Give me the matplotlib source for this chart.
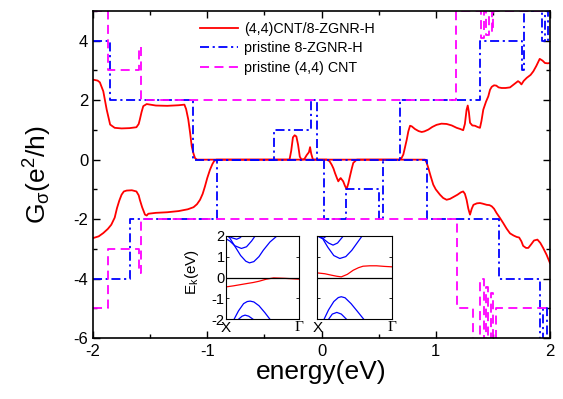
import matplotlib
matplotlib.use("Agg")
import matplotlib.pyplot as plt
from matplotlib.ticker import MultipleLocator, FixedLocator

plt.rcParams['font.family'] = ['Liberation Sans', 'DejaVu Sans']
plt.rcParams['mathtext.fontset'] = 'custom'
plt.rcParams['mathtext.rm'] = 'Liberation Sans'
plt.rcParams['mathtext.it'] = 'Liberation Sans:italic'

# ---------------- data ----------------
# pristine 8-ZGNR-H (steps: breakpoints and levels)
blue_up_x = [-2.0, -1.85, -1.125, -0.42, -0.09, -0.04, 0.687, 1.387, 1.755, 1.77, 1.93, 1.96, 1.98, 2.0]
blue_up_y = [4, 2, 0, 1, 2, 0, 2, 4, 3, 5, 4, 5, 4, 4]
blue_dn_x = [-2.0, -1.68, -0.915, 0.025, 0.212, 0.503, 0.541, 0.92, 1.55, 1.91, 1.94, 1.97, 2.0]
blue_dn_y = [-4, -2, 0, -2, -1, -2, 0, -2, -4, -6.3, -5, -6.3, -6.3]

# pristine (4,4) CNT
mag_up_x = [-2.0, -1.87, -1.595, -1.58, 1.18, 1.40, 1.42, 1.44, 1.47, 1.49, 1.50, 2.0]
mag_up_y = [5, 3, 3.8, 2, 5, 4.1, 5, 4.2, 5, 4.3, 5, 5]
mag_dn_x = [-2.0, -1.87, -1.595, -1.58, 1.186, 1.33, 1.385, 1.42, 1.44, 1.46, 1.48, 1.50, 1.53, 2.0]
mag_dn_y = [-5, -3, -3.8, -2, -5, -6.3, -4.0, -6.3, -4.3, -6.3, -4.5, -6.3, -5, -5]

# (4,4)CNT/8-ZGNR-H
red_up_x = [-2.0, -1.96, -1.94, -1.91, -1.88, -1.85, -1.81, -1.75, -1.68, -1.62, -1.60, -1.59,
            -1.575, -1.56, -1.53, -1.45, -1.35, -1.25, -1.20, -1.185, -1.166, -1.15, -1.136,
            -1.12, -1.107, -1.09, -0.28, -0.265, -0.25, -0.235, -0.22, -0.205, -0.19, -0.175,
            -0.15, -0.13, -0.11, -0.10, -0.09, -0.075, 0.68, 0.70, 0.716, 0.73, 0.746, 0.76,
            0.775, 0.79, 0.818, 0.85, 0.877, 0.90, 0.935, 0.97, 1.007, 1.05, 1.095, 1.14,
            1.183, 1.215, 1.24, 1.255, 1.27, 1.28, 1.29, 1.30, 1.32, 1.343, 1.365, 1.387,
            1.40, 1.416, 1.44, 1.46, 1.475, 1.49, 1.51, 1.53, 1.55, 1.577, 1.61, 1.65, 1.69,
            1.72, 1.735, 1.75, 1.77, 1.796, 1.83, 1.854, 1.88, 1.91, 1.935, 1.956, 1.98, 2.0]
red_up_y = [2.69, 2.66, 2.6, 2.3, 1.68, 1.18, 1.07, 1.05, 1.06, 1.09, 1.2, 1.35,
            1.6, 1.8, 1.87, 1.82, 1.81, 1.83, 1.85, 1.7, 1.35, 0.9, 0.45,
            0.2, 0.05, 0.0, 0.0, 0.3, 0.75, 0.82, 0.78, 0.5, 0.1, 0.0,
            0.02, 0.15, 0.25, 0.42, 0.2, 0.0, 0.0, 0.05, 0.17, 0.4, 0.67, 0.95,
            1.14, 1.12, 1.03, 0.96, 0.93, 0.95, 1.01, 1.1, 1.17, 1.21, 1.2, 1.15,
            1.07, 1.03, 0.99, 1.2, 1.68, 1.82, 1.6, 1.24, 1.15, 1.14, 1.1, 1.07,
            1.3, 1.68, 1.95, 2.13, 2.35, 2.45, 2.5, 2.49, 2.43, 2.41, 2.41, 2.43, 2.55,
            2.64, 2.6, 2.53, 2.65, 2.75, 2.85, 2.97, 3.15, 3.39, 3.33, 3.25, 3.24, 3.25]
red_dn_x = [-2.0, -1.95, -1.91, -1.87, -1.84, -1.81, -1.79, -1.77, -1.75, -1.73, -1.705, -1.66,
            -1.62, -1.60, -1.59, -1.57, -1.545, -1.53, -1.516, -1.45, -1.35, -1.25, -1.17,
            -1.12, -1.09, -1.063, -1.04, -1.02, -1.0, -0.976, -0.955, -0.94, -0.92, 0.045,
            0.07, 0.089, 0.105, 0.118, 0.135, 0.147, 0.16, 0.168, 0.18, 0.19, 0.205, 0.22,
            0.235, 0.249, 0.265, 0.278, 0.30, 0.31, 0.906, 0.92, 0.935, 0.955, 0.978, 1.0,
            1.037, 1.065, 1.095, 1.125, 1.153, 1.19, 1.22, 1.24, 1.255, 1.27, 1.285, 1.30,
            1.315, 1.33, 1.36, 1.387, 1.41, 1.446, 1.47, 1.49, 1.51, 1.533, 1.56, 1.59, 1.62,
            1.65, 1.68, 1.708, 1.73, 1.75, 1.765, 1.79, 1.81, 1.835, 1.86, 1.89, 1.915, 1.94,
            1.97, 2.0]
red_dn_y = [-2.64, -2.58, -2.47, -2.33, -2.19, -1.95, -1.63, -1.38, -1.18, -1.07, -1.04, -1.03,
            -1.07, -1.2, -1.35, -1.6, -1.85, -1.88, -1.82, -1.79, -1.77, -1.73, -1.67,
            -1.6, -1.5, -1.35, -1.15, -0.9, -0.62, -0.34, -0.15, -0.05, 0.0, 0.0,
            -0.05, -0.17, -0.3, -0.45, -0.62, -0.73, -0.65, -0.62, -0.68, -0.73, -0.88, -0.99,
            -0.8, -0.56, -0.3, -0.11, -0.03, 0.0, 0.0, -0.1, -0.28, -0.55, -0.84, -1.0,
            -1.18, -1.29, -1.35, -1.32, -1.26, -1.18, -1.1, -1.07, -1.15, -1.35, -1.65, -1.85,
            -1.65, -1.52, -1.47, -1.46, -1.48, -1.52, -1.53, -1.57, -1.65, -1.8, -1.95, -2.13, -2.32,
            -2.48, -2.55, -2.6, -2.62, -2.75, -2.9, -2.97, -2.97, -2.85, -2.72, -2.69, -2.8, -2.97,
            -3.2, -3.48]

# inset band structures (k from X=0 to Gamma=1)
L_c1_k = [0.0, 0.05, 0.12, 0.2, 0.27, 0.32, 0.38, 0.45, 0.51, 0.6, 0.7]
L_c1_E = [2.05, 1.9, 1.5, 1.05, 0.78, 0.70, 0.76, 1.0, 1.31, 1.7, 2.0]
L_c2_k = [0.0, 0.05, 0.12, 0.21, 0.28, 0.35, 0.40]
L_c2_E = [1.85, 1.75, 1.52, 1.39, 1.47, 1.75, 2.0]
L_c3_k = [0.03, 0.08, 0.145, 0.19, 0.22]
L_c3_E = [2.0, 1.9, 1.83, 1.9, 2.0]
L_v1_k = [0.11, 0.17, 0.24, 0.29, 0.33, 0.38, 0.45, 0.53, 0.6]
L_v1_E = [-2.0, -1.6, -1.25, -1.15, -1.13, -1.17, -1.35, -1.68, -2.0]
L_v2_k = [0.17, 0.22, 0.26, 0.31, 0.37]
L_v2_E = [-2.0, -1.85, -1.8, -1.85, -2.0]
L_r_k = [0.0, 0.1, 0.2, 0.3, 0.37, 0.45, 0.55, 0.65, 0.8, 1.0]
L_r_E = [-0.45, -0.40, -0.34, -0.28, -0.24, -0.18, -0.08, -0.02, -0.04, -0.08]

R_c1_k = [0.0, 0.07, 0.14, 0.22, 0.3, 0.38, 0.46, 0.53, 0.6]
R_c1_E = [2.05, 1.87, 1.45, 1.05, 0.91, 1.0, 1.3, 1.65, 2.0]
R_c2_k = [0.02, 0.08, 0.15, 0.21, 0.27, 0.35]
R_c2_E = [1.95, 1.85, 1.65, 1.55, 1.65, 2.0]
R_c3_k = [0.01, 0.05, 0.08, 0.13]
R_c3_E = [2.0, 1.9, 1.88, 2.0]
R_v1_k = [0.09, 0.15, 0.22, 0.28, 0.32, 0.37, 0.45, 0.53, 0.62]
R_v1_E = [-2.0, -1.55, -1.15, -0.96, -0.92, -0.97, -1.25, -1.6, -2.0]
R_v2_k = [0.15, 0.2, 0.26, 0.32, 0.39]
R_v2_E = [-2.0, -1.75, -1.67, -1.75, -2.0]
R_r_k = [0.0, 0.1, 0.19, 0.26, 0.32, 0.4, 0.48, 0.55, 0.61, 0.7, 0.79, 0.9, 1.0]
R_r_E = [0.22, 0.18, 0.11, 0.06, 0.03, 0.15, 0.35, 0.47, 0.54, 0.56, 0.56, 0.53, 0.51]

legend_labels = ["(4,4)CNT/8-ZGNR-H", "pristine 8-ZGNR-H", "pristine (4,4) CNT"]
x_ticks = [-2, -1, 0, 1, 2]
y_ticks = [-6, -4, -2, 0, 2, 4]
inset_yticks = [-2, -1, 0, 1, 2]

# ---------------- figure ----------------
fig = plt.figure(figsize=(5.63, 3.99), dpi=100)
ax = fig.add_axes([93/563, 61/399, 457/563, 327/399])

red = '#ff0000'
blue = '#0000ff'
mag = '#ff00ff'
lw = 1.3
dd_blue = (0, (5, 2, 1.2, 2))
dd_mag = (0, (5, 3))

l1, = ax.plot(red_up_x, red_up_y, color=red, lw=lw, label=legend_labels[0])
ax.plot(red_dn_x, red_dn_y, color=red, lw=lw)
l2, = ax.plot(blue_up_x, blue_up_y, color=blue, lw=lw, ls=dd_blue, drawstyle='steps-post', label=legend_labels[1])
ax.plot(blue_dn_x, blue_dn_y, color=blue, lw=lw, ls=dd_blue, drawstyle='steps-post')
l3, = ax.plot(mag_up_x, mag_up_y, color=mag, lw=lw, ls=dd_mag, drawstyle='steps-post', label=legend_labels[2])
ax.plot(mag_dn_x, mag_dn_y, color=mag, lw=lw, ls=dd_mag, drawstyle='steps-post')

ax.set_xlim(-2, 2)
ax.set_ylim(-6, 5)
ax.xaxis.set_major_locator(FixedLocator(x_ticks))
ax.xaxis.set_minor_locator(MultipleLocator(0.5))
ax.yaxis.set_major_locator(FixedLocator(y_ticks))
ax.yaxis.set_minor_locator(MultipleLocator(1))
ax.set_xticklabels([str(v) for v in x_ticks])
ax.set_yticklabels([str(v) for v in y_ticks])
ax.tick_params(which='both', direction='in', top=True, right=True, width=1.0, labelsize=12)
ax.tick_params(which='major', length=5)
ax.tick_params(which='minor', length=3)
for s in ax.spines.values():
    s.set_linewidth(1.2)
ax.tick_params(axis='x', pad=4)
ax.set_xlabel('energy(eV)', fontsize=19, labelpad=1)
ax.set_ylabel(r'G$_{\mathrm{σ}}$(e$^{2}$/h)', fontsize=19, labelpad=14)

leg = ax.legend(handles=[l1, l2, l3], loc='upper left', bbox_to_anchor=(0.356, 0.945),
                bbox_transform=fig.transFigure, frameon=False, fontsize=10.3,
                handlelength=2.65, handletextpad=0.4, labelspacing=0.38,
                borderpad=0, borderaxespad=0)

# insets
def inset(rect, bands, red_band, show_ylabels):
    a = fig.add_axes(rect)
    for k, E in bands:
        a.plot(k, E, color=blue, lw=0.9)
    a.plot(red_band[0], red_band[1], color=red, lw=0.9)
    a.axhline(0, color='black', lw=0.9)
    a.set_xlim(0, 1)
    a.set_ylim(-2, 2)
    a.set_yticks(inset_yticks)
    a.set_xticks([0, 1])
    a.set_xticklabels(['X', 'Γ'])
    labs = a.get_xticklabels()
    labs[0].set_family(['Liberation Sans', 'DejaVu Sans'])
    labs[1].set_family(['Liberation Serif', 'DejaVu Serif'])
    labs[1].set_fontsize(12.5)
    a.tick_params(axis='x', length=0, pad=1.5, labelsize=11)
    a.tick_params(axis='y', direction='in', length=2, width=0.6, right=True, labelsize=10.5, pad=1)
    if not show_ylabels:
        a.set_yticklabels([])
    else:
        a.set_yticklabels([str(v) for v in inset_yticks])
    for s in a.spines.values():
        s.set_linewidth(0.8)
    return a

ax1 = inset([226/563, 79.7/399, 73.3/563, 83.6/399],
            [(L_c1_k, L_c1_E), (L_c2_k, L_c2_E), (L_c3_k, L_c3_E), (L_v1_k, L_v1_E), (L_v2_k, L_v2_E)],
            (L_r_k, L_r_E), True)
ax2 = inset([317.3/563, 79.7/399, 75/563, 83.6/399],
            [(R_c1_k, R_c1_E), (R_c2_k, R_c2_E), (R_c3_k, R_c3_E), (R_v1_k, R_v1_E), (R_v2_k, R_v2_E)],
            (R_r_k, R_r_E), False)
fig.text(192/563, (399-272)/399, r'E$_{\mathrm{k}}$(eV)', rotation=90, fontsize=11,
         ha='center', va='center')

fig.savefig('out.png', dpi=100)
